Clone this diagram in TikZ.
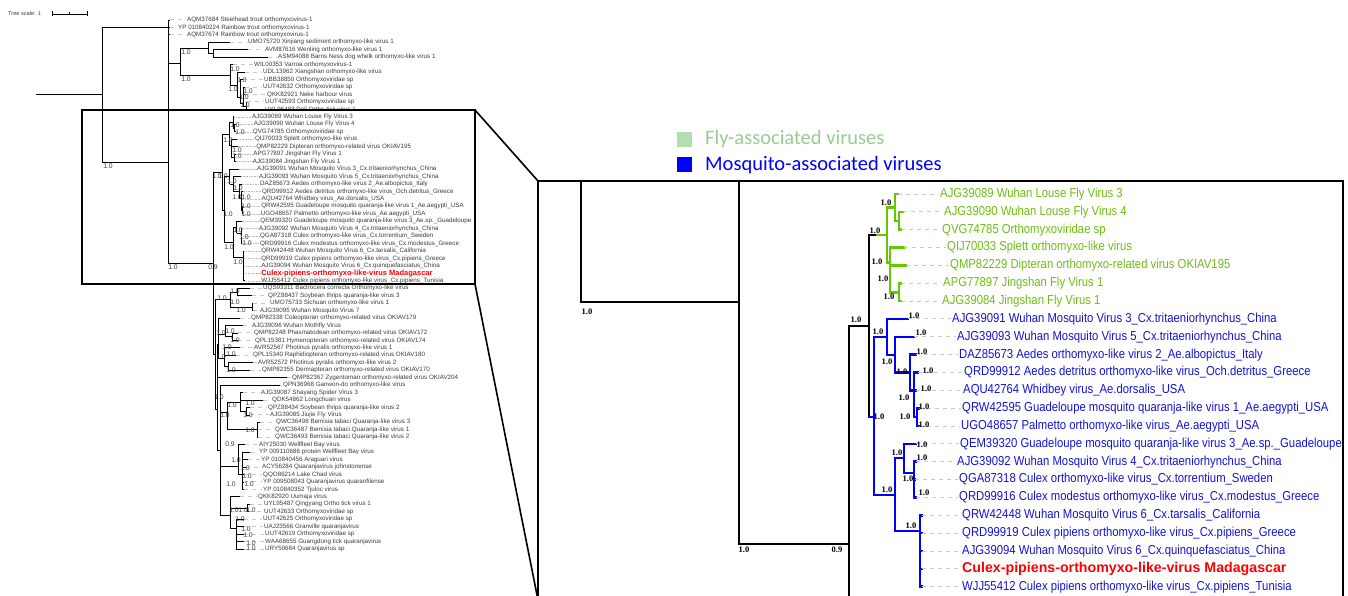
\documentclass[tikz,border=0pt]{standalone}
\usepackage{fontspec}
\setmainfont{Liberation Sans}
\newfontfamily\narrowsans[FakeStretch=0.87]{Liberation Sans}
\newfontfamily\serifl{Liberation Serif}
\newfontfamily\legfont{Carlito}
\definecolor{flytxt}{RGB}{110,190,20}
\definecolor{flybr}{RGB}{100,200,0}
\definecolor{mostxt}{RGB}{20,20,215}
\definecolor{mosbr}{RGB}{0,0,255}
\definecolor{legfly}{RGB}{150,205,150}
\definecolor{legflysq}{RGB}{178,222,178}
\definecolor{lefttxt}{RGB}{60,60,60}
\definecolor{leadgray}{RGB}{200,200,200}
% leaf: branch style, text style, node x, tip x, y, text x, text
\newcommand{\lv}[7]{\draw[#1] (#3,#5) -- (#4,#5);\draw[leader] (#4,#5) -- (#6-1.5,#5);\node[#2] at (#6,#5) {#7};}
\newcommand{\subtree}{%
 \draw[brblk] (849,326) -- (869,326);
 \draw[brblk] (869,235) -- (869,417);
 \draw[brblk] (869,235) -- (877,235);
 \draw[brfly] (877,235) -- (887,235);
 \draw[brfly] (887,207.4) -- (887,262.6);
 \draw[brfly] (887,207.4) -- (895,207.4);
 \draw[brfly] (895,194) -- (895,220.8);
 \draw[brfly] (895,220.8) -- (899,220.8);
 \draw[brfly] (899,211.85) -- (899,229.7);
 \draw[brfly] (887,262.6) -- (890,262.6);
 \draw[brfly] (890,247.55) -- (890,292.2);
 \draw[brfly] (890,292.2) -- (899,292.2);
 \draw[brfly] (899,283.25) -- (899,301.1);
 \draw[brmos] (869,417) -- (874,417);
 \draw[brmos] (874,337) -- (874,495);
 \draw[brmos] (874,337) -- (887,337);
 \draw[brmos] (887,318.95) -- (887,355);
 \draw[brmos] (887,355) -- (895,355);
 \draw[brmos] (895,336.8) -- (895,372.5);
 \draw[brmos] (895,372.5) -- (910,372.5);
 \draw[brmos] (910,354.65) -- (910,390.35);
 \draw[brmos] (910,390.35) -- (914,390.35);
 \draw[brmos] (914,372.5) -- (914,417);
 \draw[brmos] (914,417) -- (917,417);
 \draw[brmos] (917,408.2) -- (917,426.05);
 \draw[brmos] (874,495) -- (895,495);
 \draw[brmos] (895,458) -- (895,531);
 \draw[brmos] (895,458) -- (904,458);
 \draw[brmos] (904,443.9) -- (904,473);
 \draw[brmos] (904,473) -- (914,473);
 \draw[brmos] (914,461.75) -- (914,497.45);
 \draw[brmos] (895,531) -- (920,531);
 \draw[brmos] (920,515.3) -- (920,586.7);
 \lv{brfly}{txfly}{895}{898}{194}{940}{AJG39089 Wuhan Louse Fly Virus 3}
 \lv{brfly}{txfly}{899}{903}{211.85}{944}{AJG39090 Wuhan Louse Fly Virus 4}
 \lv{brfly}{txfly}{899}{901}{229.7}{942}{QVG74785 Orthomyxoviridae sp}
 \lv{brfly}{txfly}{890}{904}{247.55}{947}{QIJ70033 Splett orthomyxo-like virus}
 \lv{brfly}{txfly}{890}{906}{265.4}{950}{QMP82229 Dipteran orthomyxo-related virus OKIAV195}
 \lv{brfly}{txfly}{899}{901}{283.25}{943}{APG77897 Jingshan Fly Virus 1}
 \lv{brfly}{txfly}{899}{901}{301.1}{942}{AJG39084 Jingshan Fly Virus 1}
 \lv{brmos}{txmos}{887}{908}{318.95}{952}{AJG39091 Wuhan Mosquito Virus 3\_Cx.tritaeniorhynchus\_China}
 \lv{brmos}{txmos}{895}{914}{336.8}{957}{AJG39093 Wuhan Mosquito Virus 5\_Cx.tritaeniorhynchus\_China}
 \lv{brmos}{txmos}{910}{916}{354.65}{959}{DAZ85673 Aedes orthomyxo-like virus 2\_Ae.albopictus\_Italy}
 \lv{brmos}{txmos}{914}{918}{372.5}{964}{QRD99912 Aedes detritus orthomyxo-like virus\_Och.detritus\_Greece}
 \lv{brmos}{txmos}{914}{916}{390.35}{963}{AQU42764 Whidbey virus\_Ae.dorsalis\_USA}
 \lv{brmos}{txmos}{917}{919}{408.2}{962}{QRW42595 Guadeloupe mosquito quaranja-like virus 1\_Ae.aegypti\_USA}
 \lv{brmos}{txmos}{917}{919}{426.05}{961}{UGO48657 Palmetto orthomyxo-like virus\_Ae.aegypti\_USA}
 \lv{brmos}{txmos}{904}{916}{443.9}{960}{QEM39320 Guadeloupe mosquito quaranja-like virus 3\_Ae.sp.\_Guadeloupe}
 \lv{brmos}{txmos}{914}{916}{461.75}{957}{AJG39092 Wuhan Mosquito Virus 4\_Cx.tritaeniorhynchus\_China}
 \lv{brmos}{txmos}{914}{915}{479.6}{959}{QGA87318 Culex orthomyxo-like virus\_Cx.torrentium\_Sweden}
 \lv{brmos}{txmos}{914}{916}{497.45}{959}{QRD99916 Culex modestus orthomyxo-like virus\_Cx.modestus\_Greece}
 \lv{brmos}{txmos}{920}{922}{515.3}{962}{QRW42448 Wuhan Mosquito Virus 6\_Cx.tarsalis\_California}
 \lv{brmos}{txmos}{920}{922}{533.15}{962}{QRD99919 Culex pipiens orthomyxo-like virus\_Cx.pipiens\_Greece}
 \lv{brmos}{txmos}{920}{922}{551}{962}{AJG39094 Wuhan Mosquito Virus 6\_Cx.quinquefasciatus\_China}
 \lv{brmos}{txred}{920}{922}{568.85}{962}{Culex-pipiens-orthomyxo-like-virus Madagascar}
 \lv{brmos}{txmos}{920}{922}{586.7}{962}{WJJ55412 Culex pipiens orthomyxo-like virus\_Cx.pipiens\_Tunisia}
}
\begin{document}
\begin{tikzpicture}[x=1pt,y=-1pt,
  lbr/.style={black, line width=0.8pt},
  ldot/.style={gray!55, line width=0.4pt, dash pattern=on 0.6pt off 1pt},
  ltx/.style={anchor=west, inner sep=0pt, text=lefttxt, font=\fontsize{6.25}{7}\selectfont},
  ltxred/.style={anchor=west, inner sep=0pt, text=red, font=\bfseries\fontsize{7.5}{8}\selectfont},
  llab/.style={inner sep=0pt, text=lefttxt, font=\fontsize{6.8}{7}\selectfont},
  rlab/.style={inner sep=0pt, text=black, font=\serifl\bfseries\fontsize{8.5}{9}\selectfont},
  brblk/.style={black, line width=2.6pt, line cap=rect},
  brfly/.style={flybr, line width=2.6pt, line cap=rect},
  brmos/.style={mosbr, line width=2.6pt, line cap=rect},
  leader/.style={leadgray, line width=1pt, dash pattern=on 4pt off 4pt},
  txfly/.style={anchor=west, inner sep=0pt, text=flytxt, font=\narrowsans\fontsize{13}{14}\selectfont},
  txmos/.style={anchor=west, inner sep=0pt, text=mostxt, font=\narrowsans\fontsize{13}{14}\selectfont},
  txred/.style={anchor=west, inner sep=0pt, text=red, font=\bfseries\fontsize{14.2}{15}\selectfont},
  bigline/.style={black, line width=2.5pt},
  legtxt/.style={anchor=west, inner sep=0pt, font=\legfont\fontsize{20.5}{22}\selectfont}]
\clip (0,0) rectangle (1348,596);
\fill[white] (0,0) rectangle (1348,596);
% ---------- tree scale ----------
\node[llab, anchor=west, font=\fontsize{5.6}{6}\selectfont] (scaletxt) at (8,14) {Tree scale: 1};
\draw[lbr, line width=0.6pt] (52,14) -- (87,14);
\draw[lbr, line width=0.6pt] (52,11.5) -- (52,16.5);
\draw[lbr, line width=0.6pt] (87,11.5) -- (87,16.5);
\draw[lbr, line width=0.6pt] (69.5,12.5) -- (69.5,14);
% ---------- left tree: upper part ----------
\draw[lbr] (36,94) -- (102,94);
\draw[lbr] (102,27.45) -- (102,162) -- (168,162);
\draw[lbr] (102,27.45) -- (168,27.45);
\draw[lbr] (168,20) -- (168,263) -- (213,263);
\lv{lbr}{ltx}{168}{170}{20}{187}{AQM37684 Steelhead trout orthomyxovirus-1}
\lv{lbr}{ltx}{168}{170}{27.45}{178}{YP 010840224 Rainbow trout orthomyxovirus-1}
\lv{lbr}{ltx}{168}{170}{34.9}{187}{AQM37674 Rainbow trout orthomyxovirus-1}
\draw[lbr] (168,63) -- (180,63);
\draw[lbr] (180,48) -- (180,75);
\draw[lbr] (180,48) -- (208,48);
\draw[lbr] (208,42.35) -- (208,53.5);
\draw[lbr] (208,53.5) -- (213,53.5);
\draw[lbr] (213,49.8) -- (213,57.25);
\lv{lbr}{ltx}{208}{230}{42.35}{248}{UMO75720 Xinjiang sediment orthomyxo-like virus 1}
\lv{lbr}{ltx}{213}{248}{49.8}{265}{AVM87616 Wenling orthomyxo-like virus 1}
\lv{lbr}{ltx}{213}{268}{57.25}{278}{ASM94088 Barns Ness dog whelk orthomyxo-like virus 1}
\draw[lbr] (180,75) -- (230,75);
\draw[lbr] (230,64.7) -- (230,85);
\draw[lbr] (230,85) -- (237,85);
\draw[lbr] (237,72.15) -- (237,97);
\draw[lbr] (237,97) -- (240,97);
\draw[lbr] (240,79.6) -- (240,103);
\draw[lbr] (240,103) -- (243,103);
\draw[lbr] (243,87.05) -- (243,106);
\draw[lbr] (243,106) -- (246,106);
\draw[lbr] (246,101.95) -- (246,109.4);
\lv{lbr}{ltx}{230}{233}{64.7}{254}{WIL00353 Varroa orthomyxovirus-1}
\lv{lbr}{ltx}{237}{245}{72.15}{263}{UDL13962 Xiangshan orthomyxo-like virus}
\lv{lbr}{ltx}{240}{243}{79.6}{264}{UBB38850 Orthomyxoviridae sp}
\lv{lbr}{ltx}{243}{245}{87.05}{263}{UUT42632 Orthomyxoviridae sp}
\lv{lbr}{ltx}{243}{245}{94.5}{267}{QKK82921 Neke harbour virus}
\lv{lbr}{ltx}{246}{247}{101.95}{265}{UUT42593 Orthomyxoviridae sp}
\lv{lbr}{ltx}{246}{247}{109.4}{265}{UYL95483 Dali Ortho tick virus 1}
\foreach \x/\y in {108/166,186/52,186/79,235/69,242/80,233/89,248/91,244/97,245/105}
  \node[llab] at (\x,\y) {1.0};
% ---------- left tree: boxed part (same as enlarged panel, scaled) ----------
\begin{scope}[shift={(-140.6,35.87)}, scale=0.41754,
  brblk/.style={lbr}, brfly/.style={lbr}, brmos/.style={lbr},
  leader/.style={ldot}, txfly/.style={ltx}, txmos/.style={ltx}, txred/.style={ltxred}]
 \subtree
\end{scope}
\foreach \x/\y in {235/125,240/132,228/140,237/150,237/156,217/176,223/176,232/181,238/188,
  237/197,246/197,246/206,228/214,246/214,238/230,244/237,247/243,229/247,238/262,173/267}
  \node[llab] at (\x,\y) {1.0};
\node[llab] at (213,267) {0.9};
% ---------- left tree: lower part ----------
\draw[lbr] (213,172) -- (213,354) -- (215,354);
\draw[lbr] (215,299) -- (215,409);
\draw[lbr] (215,299) -- (230,299);
\draw[lbr] (230,292) -- (230,307);
\draw[lbr] (230,292) -- (237,292);
\draw[lbr] (237,288.2) -- (237,295.7);
\draw[lbr] (230,307) -- (252,307);
\draw[lbr] (252,303.1) -- (252,310.6);
\lv{lbr}{ltx}{237}{250}{288.2}{263}{UQS93311 Bactrocera correcta Orthomyxo-like virus}
\lv{lbr}{ltx}{237}{252}{295.7}{268}{QPZ88437 Soybean thrips quaranja-like virus 3}
\lv{lbr}{ltx}{252}{253}{303.1}{270}{UMO75733 Sichuan orthomyxo-like virus 1}
\lv{lbr}{ltx}{252}{253}{310.6}{260}{AJG39095 Wuhan Mosquito Virus 7}
\draw[lbr] (215,409) -- (217,409);
\draw[lbr] (217,344) -- (217,450);
\draw[lbr] (217,344) -- (218,344);
\draw[lbr] (218,318) -- (218,358);
\draw[lbr] (218,334) -- (225,334);
\draw[lbr] (225,325.5) -- (225,336.6);
\draw[lbr] (225,336.6) -- (232,336.6);
\draw[lbr] (232,332.9) -- (232,340.4);
\draw[lbr] (218,358) -- (224,358);
\draw[lbr] (224,347.8) -- (224,366.5);
\draw[lbr] (224,366.5) -- (228,366.5);
\draw[lbr] (228,362.7) -- (228,370.2);
\lv{lbr}{ltx}{218}{240}{318}{251}{QMP82338 Coleopteran orthomyxo-related virus OKIAV179}
\lv{lbr}{ltx}{225}{243}{325.5}{252}{AJG39096 Wuhan Mothfly Virus}
\lv{lbr}{ltx}{232}{238}{332.9}{254}{QMP82248 Phasmatodean orthomyxo-related virus OKIAV172}
\lv{lbr}{ltx}{232}{238}{340.4}{255}{QPL15381 Hymenopteran orthomyxo-related virus OKIAV174}
\lv{lbr}{ltx}{224}{240}{347.8}{254}{AVR52567 Photinus pyralis orthomyxo-like virus 1}
\lv{lbr}{ltx}{224}{236}{355.3}{253}{QPL15340 Raphidiopteran orthomyxo-related virus OKIAV180}
\lv{lbr}{ltx}{228}{253}{362.7}{258}{AVR52572 Photinus pyralis orthomyxo-like virus 2}
\lv{lbr}{ltx}{228}{250}{370.2}{262}{QMP82355 Dermapteran orthomyxo-related virus OKIAV170}
\lv{lbr}{ltx}{217}{287}{377.6}{292}{QMP82367 Zygentoman orthomyxo-related virus OKIAV204}
\draw[lbr] (217,450) -- (220,450);
\draw[lbr] (220,385.1) -- (220,515);
\lv{lbr}{ltx}{220}{280}{385.1}{283}{QPN36968 Ganwon-do orthomyxo-like virus}
\draw[lbr] (220,412) -- (227,412);
\draw[lbr] (227,402) -- (227,429.8);
\draw[lbr] (227,402) -- (240,402);
\draw[lbr] (240,392.5) -- (240,411);
\draw[lbr] (240,411) -- (246,411);
\draw[lbr] (246,407.4) -- (246,414.9);
\draw[lbr] (227,429.8) -- (257,429.8);
\draw[lbr] (257,422.3) -- (257,437.2);
\lv{lbr}{ltx}{240}{243}{392.5}{261}{AJG39087 Shayang Spider Virus 3}
\lv{lbr}{ltx}{240}{263}{400}{272}{QDK54862 Longchuan virus}
\lv{lbr}{ltx}{246}{250}{407.4}{268}{QPZ88434 Soybean thrips quaranja-like virus 2}
\lv{lbr}{ltx}{246}{250}{414.9}{270}{AJG39085 Jiujie Fly Virus}
\lv{lbr}{ltx}{257}{260}{422.3}{276}{QWC36498 Bemisia tabaci Quaranja-like virus 3}
\lv{lbr}{ltx}{257}{258}{429.8}{275}{QWC36487 Bemisia tabaci Quaranja-like virus 1}
\lv{lbr}{ltx}{257}{258}{437.2}{275}{QWC36493 Bemisia tabaci Quaranja-like virus 2}
\draw[lbr] (220,466) -- (238,466);
\draw[lbr] (238,444.7) -- (238,474);
\draw[lbr] (238,474) -- (242,474);
\draw[lbr] (242,452.1) -- (242,489.4);
\lv{lbr}{ltx}{238}{245}{444.7}{259}{AIY25030 Wellfleet Bay virus}
\lv{lbr}{ltx}{242}{250}{452.1}{259}{YP 009110686 protein Wellfleet Bay virus}
\lv{lbr}{ltx}{242}{248}{459.6}{261}{YP 010840456 Araguari virus}
\lv{lbr}{ltx}{242}{246}{467}{262}{ACY56284 Quaranjavirus johnstonense}
\lv{lbr}{ltx}{242}{244}{474.5}{263}{QQO86214 Lake Chad virus}
\lv{lbr}{ltx}{242}{244}{481.9}{263}{YP 009508043 Quaranjavirus quaranfilense}
\lv{lbr}{ltx}{242}{244}{489.4}{263}{YP 010840352 Tjuloc virus}
\draw[lbr] (220,515) -- (230,515);
\draw[lbr] (230,496.8) -- (230,528);
\draw[lbr] (230,508) -- (247,508);
\draw[lbr] (247,504.3) -- (247,511.7);
\draw[lbr] (230,528) -- (236,528);
\draw[lbr] (236,519.2) -- (236,549);
\lv{lbr}{ltx}{230}{240}{496.8}{258}{QKK82920 Uumaja virus}
\lv{lbr}{ltx}{247}{250}{504.3}{264}{UYL95487 Qingyang Ortho tick virus 1}
\lv{lbr}{ltx}{247}{249}{511.7}{264}{UUT42633 Orthomyxoviridae sp}
\lv{lbr}{ltx}{236}{244}{519.2}{263}{UUT42625 Orthomyxoviridae sp}
\lv{lbr}{ltx}{236}{244}{526.6}{264}{UAJ23566 Granville quaranjavirus}
\lv{lbr}{ltx}{236}{244}{534.1}{265}{UUT42619 Orthomyxoviridae sp}
\lv{lbr}{ltx}{236}{244}{541.5}{265}{WAA68655 Guangdong tick quaranjavirus}
\lv{lbr}{ltx}{236}{244}{549}{265}{URY50684 Quaranjavirus sp}
\foreach \x/\y in {235/291,222/298,235/302,241/310,221/333,230/331,235/340,227/347,231/354,221/357,231/370,
  219/397,232/405,250/403,248/415,225/415,250/430,236/460,245/468,247/476,231/484,249/484,
  234/510,243/510,251/510,240/519,246/529,248/535,251/543,251/548}
  \node[llab] at (\x,\y) {1.0};
\node[llab] at (230,444) {0.9};
% ---------- zoom box and guide lines ----------
\draw[black, line width=1.8pt] (82,110) rectangle (475,284);
\draw[black, line width=1.6pt] (475,110) -- (538,181);
\draw[black, line width=1.6pt] (475,284) -- (538,600);
% ---------- enlarged panel ----------
\draw[bigline] (538,600) -- (538,181) -- (1343,181) -- (1343,600);
\draw[bigline] (581,181) -- (581,302) -- (739,302);
\draw[bigline] (739,181) -- (739,544) -- (849,544);
\draw[bigline] (849,326) -- (849,600);
\node[rlab] at (587,312) {1.0};
\node[rlab] at (744,550) {1.0};
\node[rlab] at (837,550) {0.9};
\subtree
\foreach \x/\y in {886/203,875/231,877/262,883/279,889/297,
  856/320,878/332,914/316,921/333,887/362,922/352,902/372,928/371,926/389,904/398,924/407,
  879/417,905/417,924/425,922/445,897/453,922/458,908/479,924/493,887/490,911/526}
  \node[rlab] at (\x,\y) {1.0};
% ---------- legend ----------
\fill[legflysq] (677,132) rectangle (692,147);
\fill[blue] (677,157) rectangle (692,172);
\node[legtxt, text=legfly] (legfly) at (705,139) {Fly-associated viruses};
\node[legtxt, text=blue] (legmos) at (705,165) {Mosquito-associated viruses};
\end{tikzpicture}
\end{document}
